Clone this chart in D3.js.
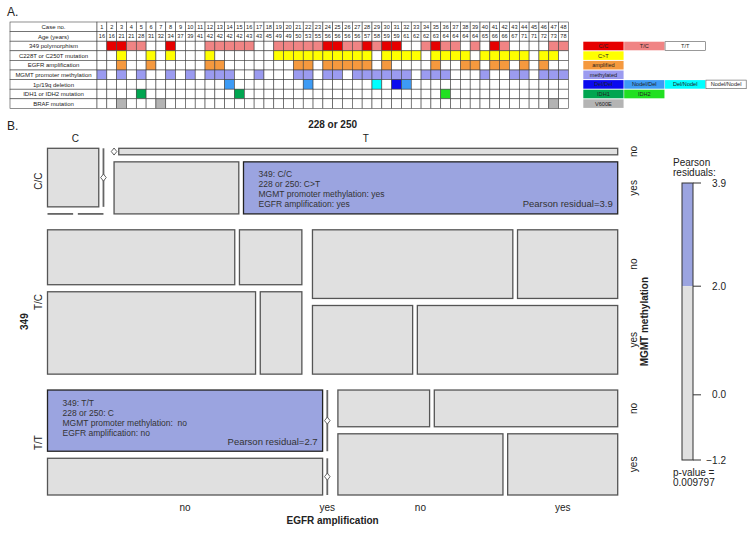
<!DOCTYPE html>
<html><head><meta charset="utf-8">
<script src="https://cdn.jsdelivr.net/npm/d3@7"></script>
<style>
body{margin:0;background:#fff}
svg{display:block}
text{font-family:"Liberation Sans",Arial,Helvetica,sans-serif}
</style>
</head><body>
<svg id="c" width="747" height="543"></svg>
<script>
// ================= DATA =================
const caseNo = [1,2,3,4,5,6,7,8,9,10,11,12,13,14,15,16,17,18,19,20,21,22,23,24,25,26,27,28,29,30,31,32,33,34,35,36,37,38,39,40,41,42,43,44,45,46,47,48];
const ageYears = [16,16,21,21,28,31,32,34,37,39,41,42,42,42,42,43,43,45,49,49,50,53,55,56,56,56,56,57,58,59,59,61,62,62,63,64,64,64,64,65,66,66,67,71,71,72,73,78];
const snp349 = ["T/T","C/C","C/C","T/C","T/C","T/T","T/T","C/C","T/T","T/T",
                "T/T","T/C","T/C","T/C","T/C","T/C","T/T","T/T","T/C","T/C",
                "T/C","T/C","T/C","C/C","C/C","T/C","T/C","C/C","T/C","C/C",
                "C/C","T/T","T/T","T/C","C/C","T/C","T/C","T/T","T/C","T/T",
                "C/C","T/C","T/T","T/T","T/T","T/T","T/C","T/C"];
const tertMut = [0,0,1,0,0,1,0,1,0,0,
                 0,1,0,0,0,0,0,0,1,1,
                 1,1,1,1,1,1,1,1,0,1,
                 1,1,1,0,1,1,1,1,0,1,
                 1,1,1,1,0,1,1,0];
const egfrAmp = [0,0,1,0,0,1,0,0,0,0,
                 0,1,1,0,0,0,0,0,0,0,
                 1,1,0,1,1,1,1,1,0,1,
                 0,0,0,0,1,0,0,1,1,0,
                 1,1,0,1,0,1,0,0];
const mgmtMeth = [1,0,1,0,1,0,0,1,0,1,
                  0,1,1,1,0,0,1,0,0,0,
                  1,1,0,1,1,0,1,1,1,1,
                  1,1,0,1,1,1,0,0,0,1,
                  0,0,1,1,0,1,1,1];
const codel = ["","","","","","","","","","",
               "","","","Nodel/Del","","","","","","",
               "","Nodel/Del","","","","","","","Del/Nodel","",
               "Del/Del","Nodel/Del","","","","","","","","",
               "","","","","","","",""];
const idhMut = ["","","","","IDH1","","","","","",
                "","","","","IDH1","","","","","",
                "","","","","","","","","","",
                "","","","","","IDH2","","","","",
                "","","","","","","",""];
const brafMut = ["","","V600E","","","","V600E","","","",
                 "","","","","","","","","","",
                 "","","","","","","","","","",
                 "","","","","","","","","","",
                 "","","","","","","V600E",""];

const rowLabels = ["Case no.","Age (years)","349 polymorphism","C228T or C250T mutation","EGFR amplification","MGMT promoter methylation","1p/19q deletion","IDH1 or IDH2 mutation","BRAF mutation"];
const legendLabels = [["C/C","T/C","T/T"],["C>T"],["amplified"],["methylated"],["Del/Del","Nodel/Del","Del/Nodel","Nodel/Nodel"],["IDH1","IDH2"],["V600E"]];

const levels349 = ["C/C","T/C","T/T"];
const levels228 = ["C","T"];
const levelsMGMT = ["no","yes"];
const levelsEGFR = ["no","yes"];
const residualTicks = [3.9, 2.0, 0.0, -1.2];
const pValueText = "0.009797";

// ================= STYLE =================
const colorMap = {
  "C/C":"#e60000","T/C":"#f08484","T/T":"#ffffff",
  "C>T":"#ffff00","amplified":"#f5993e","methylated":"#9b9bf0",
  "Del/Del":"#0a0aee","Nodel/Del":"#3d9bf5","Del/Nodel":"#00ffff","Nodel/Nodel":"#ffffff",
  "IDH1":"#00a550","IDH2":"#22e022","V600E":"#b4b4b4","":"#ffffff"
};
const svg = d3.select("#c");

// ================= PANEL A: TABLE =================
svg.append("text").attr("x",7).attr("y",16).attr("font-size",12).attr("fill","#222").text("A.");

const xCase = d3.scaleBand().domain(caseNo).range([97,568.4]);
const yRow = d3.scaleBand().domain(rowLabels).range([22,108.4]);
const gTab = svg.append("g");

// row label cells
rowLabels.forEach(r=>{
  gTab.append("rect").attr("x",10).attr("y",yRow(r)).attr("width",87).attr("height",yRow.bandwidth())
    .attr("fill","#fff").attr("stroke","#444").attr("stroke-width",0.6);
  gTab.append("text").attr("x",53.5).attr("y",yRow(r)+yRow.bandwidth()/2).attr("dy","0.35em")
    .attr("text-anchor","middle").attr("font-size",6).attr("fill","#222").text(r);
});

const rowValue = [
  i=>null, i=>null,
  i=>snp349[i],
  i=>tertMut[i]?"C>T":"",
  i=>egfrAmp[i]?"amplified":"",
  i=>mgmtMeth[i]?"methylated":"",
  i=>codel[i],
  i=>idhMut[i],
  i=>brafMut[i]
];
rowLabels.forEach((r,ri)=>{
  caseNo.forEach((c,i)=>{
    const v = rowValue[ri](i);
    gTab.append("rect").attr("x",xCase(c)).attr("y",yRow(r)).attr("width",xCase.bandwidth()).attr("height",yRow.bandwidth())
      .attr("fill", v==null ? "#fff" : colorMap[v]).attr("stroke","#444").attr("stroke-width",0.6);
    if (ri<2) {
      gTab.append("text").attr("x",xCase(c)+xCase.bandwidth()/2).attr("y",yRow(r)+yRow.bandwidth()/2).attr("dy","0.35em")
        .attr("text-anchor","middle").attr("font-size",5.6).attr("fill","#222").text(ri===0?c:ageYears[i]);
    }
  });
});

// table legend
const xLeg = d3.scaleBand().domain([0,1,2,3]).range([583,746.5]);
legendLabels.forEach((row,ri)=>{
  const r = rowLabels[ri+2];
  row.forEach((lab,ci)=>{
    const col = colorMap[lab];
    gTab.append("rect").attr("x",xLeg(ci)+0.3).attr("y",yRow(r)+0.5).attr("width",xLeg.bandwidth()-0.6).attr("height",yRow.bandwidth()-1)
      .attr("fill",col).attr("stroke", col==="#ffffff" ? "#555" : "none").attr("stroke-width",0.6);
    gTab.append("text").attr("x",xLeg(ci)+xLeg.bandwidth()/2).attr("y",yRow(r)+yRow.bandwidth()/2).attr("dy","0.35em")
      .attr("text-anchor","middle").attr("font-size",5.6).attr("fill","#222").text(lab);
  });
});

// ================= PANEL B: MOSAIC =================
svg.append("text").attr("x",7).attr("y",130).attr("font-size",12).attr("fill","#222").text("B.");

const recs = caseNo.map((c,i)=>({s:snp349[i], t:tertMut[i]?"T":"C", m:mgmtMeth[i]?"yes":"no", e:egfrAmp[i]?"yes":"no"}));
const N = recs.length;
const cnt = f => recs.filter(f).length;
const pS = Object.fromEntries(levels349.map(v=>[v,cnt(r=>r.s===v)/N]));
const pT = Object.fromEntries(levels228.map(v=>[v,cnt(r=>r.t===v)/N]));
const pM = Object.fromEntries(levelsMGMT.map(v=>[v,cnt(r=>r.m===v)/N]));
const pE = Object.fromEntries(levelsEGFR.map(v=>[v,cnt(r=>r.e===v)/N]));

const mX0=47.5, mX1=617.7, mY0=148.3, mY1=495;
const gaps=[15.9,10.6,7.05,4.7];

function splitRange(a0,a1,counts,gap){
  const n=counts.length, tot=d3.sum(counts);
  const avail=(a1-a0)-(n-1)*gap;
  const s=d3.scaleLinear().domain([0, tot||n]).range([0,avail]);
  let pos=a0; const out=[];
  counts.forEach(c=>{const w=s(tot?c:1); out.push([pos,pos+w]); pos+=w+gap;});
  return out;
}

const cells=[]; const rowsPos=[]; const colsPos=[]; const mgPos=[]; const egPos=[];
const sRows = splitRange(mY0,mY1, levels349.map(s=>cnt(r=>r.s===s)), gaps[0]);
levels349.forEach((s,i)=>{
  const [ry0,ry1]=sRows[i];
  const tCols = splitRange(mX0,mX1, levels228.map(t=>cnt(r=>r.s===s&&r.t===t)), gaps[1]);
  colsPos[i]=tCols; mgPos[i]=[]; egPos[i]=[];
  levels228.forEach((t,j)=>{
    const [cx0,cx1]=tCols[j];
    const mRows = splitRange(ry0,ry1, levelsMGMT.map(m=>cnt(r=>r.s===s&&r.t===t&&r.m===m)), gaps[2]);
    mgPos[i][j]=mRows; egPos[i][j]=[];
    levelsMGMT.forEach((m,k)=>{
      const [my0,my1]=mRows[k];
      const parent = cnt(r=>r.s===s&&r.t===t&&r.m===m);
      const eCols = splitRange(cx0,cx1, levelsEGFR.map(e=>cnt(r=>r.s===s&&r.t===t&&r.m===m&&r.e===e)), gaps[3]);
      egPos[i][j][k]=eCols;
      levelsEGFR.forEach((e,l)=>{
        const obs = cnt(r=>r.s===s&&r.t===t&&r.m===m&&r.e===e);
        const exp = N*pS[s]*pT[t]*pM[m]*pE[e];
        cells.push({s,t,m,e,obs,parent,res:(obs-exp)/Math.sqrt(exp),x0:eCols[l][0],x1:eCols[l][1],y0:my0,y1:my1});
      });
    });
  });
  rowsPos[i]=[ry0,ry1];
});

const fillScale = d3.scaleThreshold().domain([2]).range(["#e0e0e0","#9ba4e0"]);
const gM = svg.append("g");
cells.forEach(c=>{
  const w=c.x1-c.x0, h=c.y1-c.y0;
  if (w>0.01 && h>0.01) {
    gM.append("rect").attr("x",c.x0).attr("y",c.y0).attr("width",w).attr("height",h)
      .attr("fill",fillScale(c.res)).attr("stroke", c.res>2 ? "#222" : "#555").attr("stroke-width",1.3);
    if (c.res>2) {
      const lines=["349: "+c.s, "228 or 250: "+(c.t==="T"?"C>T":"C"), "MGMT promoter methylation: "+(c.m==="no"?" no":c.m), "EGFR amplification: "+c.e];
      lines.forEach((L,q)=>{
        gM.append("text").attr("x",c.x0+15).attr("y",c.y0+15.5+q*10).attr("font-size",8.5).attr("fill","#333")
          .attr("xml:space","preserve").style("white-space","pre").text(L);
      });
      gM.append("text").attr("x",c.x1-5).attr("y",c.y1-6.5).attr("text-anchor","end").attr("font-size",9.5).attr("fill","#333")
        .text("Pearson residual="+d3.format(".1f")(c.res));
    }
  } else if (h>0.01) {
    gM.append("line").attr("x1",c.x0).attr("x2",c.x0).attr("y1",c.y0).attr("y2",c.y1).attr("stroke","#666").attr("stroke-width",1.8);
    if (c.parent>0) {
      const cx=c.x0, cy=(c.y0+c.y1)/2;
      gM.append("path").attr("d",`M${cx},${cy-3.5}L${cx+2.8},${cy}L${cx},${cy+3.5}L${cx-2.8},${cy}Z`)
        .attr("fill","#fff").attr("stroke","#555").attr("stroke-width",0.9);
    }
  } else {
    gM.append("line").attr("x1",c.x0).attr("x2",c.x1).attr("y1",c.y0).attr("y2",c.y0).attr("stroke","#666").attr("stroke-width",1.8);
  }
});

// mosaic labels
const midX=(mX0+mX1)/2, midY=(mY0+mY1)/2;
svg.append("text").attr("x",midX).attr("y",128).attr("text-anchor","middle").attr("font-size",10).attr("font-weight","bold").attr("fill","#222").text("228 or 250");
levels228.forEach((t,j)=>{
  svg.append("text").attr("x",(colsPos[0][j][0]+colsPos[0][j][1])/2).attr("y",141.5).attr("text-anchor","middle").attr("font-size",10).attr("fill","#222").text(t);
});
svg.append("text").attr("transform",`translate(28,${midY}) rotate(-90)`).attr("text-anchor","middle").attr("font-size",10).attr("font-weight","bold").attr("fill","#222").text("349");
levels349.forEach((s,i)=>{
  svg.append("text").attr("transform",`translate(41.5,${(rowsPos[i][0]+rowsPos[i][1])/2}) rotate(-90)`).attr("text-anchor","middle").attr("font-size",10).attr("fill","#222").text(s);
  levelsMGMT.forEach((m,k)=>{
    const p=mgPos[i][1][k];
    svg.append("text").attr("transform",`translate(636.5,${(p[0]+p[1])/2}) rotate(-90)`).attr("text-anchor","middle").attr("font-size",10).attr("fill","#222").text(m);
  });
});
svg.append("text").attr("transform",`translate(648,${midY}) rotate(-90)`).attr("text-anchor","middle").attr("font-size",10).attr("font-weight","bold").attr("fill","#222").text("MGMT methylation");
levels228.forEach((t,j)=>{
  levelsEGFR.forEach((e,l)=>{
    const p=egPos[2][j][1][l];
    svg.append("text").attr("x",(p[0]+p[1])/2).attr("y",511).attr("text-anchor","middle").attr("font-size",10).attr("fill","#222").text(e);
  });
});
svg.append("text").attr("x",midX).attr("y",524).attr("text-anchor","middle").attr("font-size",10).attr("font-weight","bold").attr("fill","#222").text("EGFR amplification");

// residual legend
const yRes = d3.scaleLinear().domain(d3.extent(residualTicks)).range([460,183]);
const gL = svg.append("g");
gL.append("text").attr("x",673).attr("y",166).attr("font-size",10).attr("fill","#222").text("Pearson");
gL.append("text").attr("x",673).attr("y",176).attr("font-size",10).attr("fill","#222").text("residuals:");
const rMax=d3.max(residualTicks), rMin=d3.min(residualTicks);
gL.append("rect").attr("x",682).attr("width",11).attr("y",yRes(rMax)).attr("height",yRes(2)-yRes(rMax)).attr("fill",fillScale(rMax));
gL.append("rect").attr("x",682).attr("width",11).attr("y",yRes(2)).attr("height",yRes(rMin)-yRes(2)).attr("fill",fillScale(rMin));
gL.append("rect").attr("x",682).attr("width",11).attr("y",yRes(rMax)).attr("height",yRes(rMin)-yRes(rMax)).attr("fill","none").attr("stroke","#333").attr("stroke-width",1);
residualTicks.forEach(v=>{
  gL.append("line").attr("x1",693).attr("x2",701).attr("y1",yRes(v)).attr("y2",yRes(v)).attr("stroke","#333").attr("stroke-width",1);
  gL.append("text").attr("x",726).attr("y",yRes(v)).attr("dy","0.35em").attr("text-anchor","end").attr("font-size",10).attr("fill","#222").text(d3.format(".1f")(v));
});
gL.append("text").attr("x",673).attr("y",476).attr("font-size",10).attr("fill","#222").text("p-value =");
gL.append("text").attr("x",673).attr("y",486).attr("font-size",10).attr("fill","#222").text(pValueText);
</script>
</body></html>
